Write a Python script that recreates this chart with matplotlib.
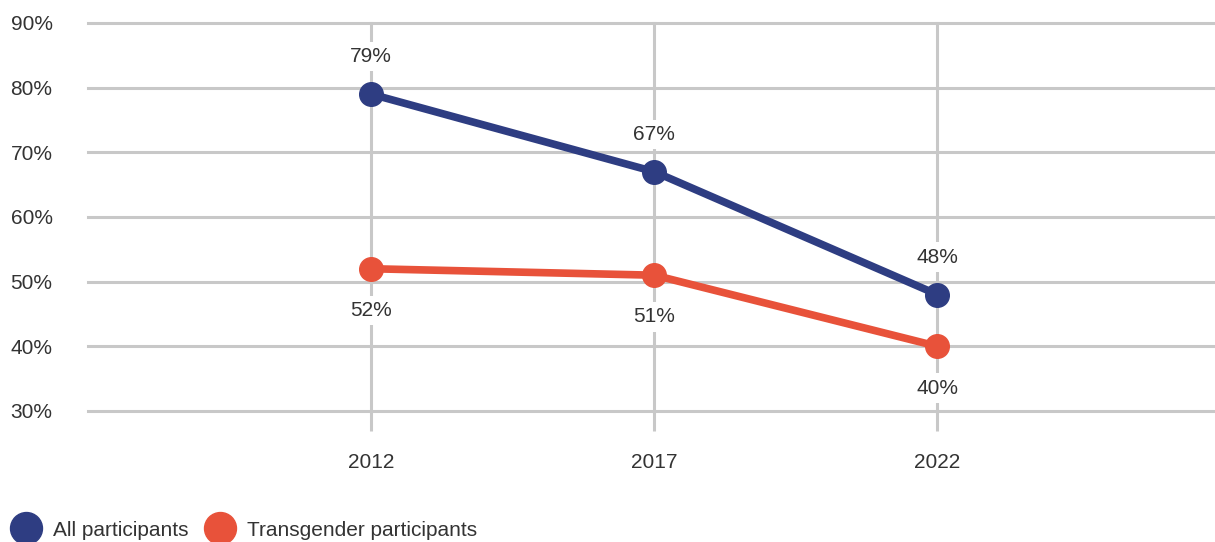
import matplotlib.pyplot as plt
from matplotlib import font_manager
from matplotlib.lines import Line2D

names = {f.name for f in font_manager.fontManager.ttflist}
fam = 'Liberation Sans Narrow' if 'Liberation Sans Narrow' in names else 'Liberation Sans'
plt.rcParams['font.family'] = [fam, 'DejaVu Sans']

years = ['2012', '2017', '2022']
all_part = [79, 67, 48]
trans_part = [52, 51, 40]

navy = '#2e3d82'
orange = '#e8523a'
grid_c = '#c8c8c8'
txt_c = '#333333'
fs = 15

fig = plt.figure(figsize=(12.15, 5.42), dpi=100)
ax = fig.add_axes([88/1215, 131/542, (1215-88)/1215, 388/542])
x = list(range(len(years)))

ax.plot(x, all_part, color=navy, lw=5.5, marker='o', ms=17, zorder=4, solid_capstyle='round')
ax.plot(x, trans_part, color=orange, lw=5.5, marker='o', ms=17, zorder=4, solid_capstyle='round')

# value labels, white box breaks the gridlines
for i in x:
    ax.annotate(f'{all_part[i]}%', (i, all_part[i]), xytext=(0, 27), textcoords='offset points',
                ha='center', va='center', fontsize=fs, color=txt_c, zorder=3,
                bbox=dict(boxstyle='square,pad=0.25', fc='white', ec='none'))
    ax.annotate(f'{trans_part[i]}%', (i, trans_part[i]), xytext=(0, -30), textcoords='offset points',
                ha='center', va='center', fontsize=fs, color=txt_c, zorder=3,
                bbox=dict(boxstyle='square,pad=0.25', fc='white', ec='none'))

ax.set_xlim(-1, 2.98)
ax.set_ylim(30, 90)
ax.set_xticks(x)
ax.set_xticklabels(years)
ax.set_yticks(range(30, 91, 10))
ax.set_yticklabels([f'{v}%' for v in range(30, 91, 10)])

ax.grid(True, color=grid_c, lw=2.2)
for gl in ax.get_xgridlines() + ax.get_ygridlines():
    gl.set_clip_on(False)
ax.set_axisbelow(True)
for s in ax.spines.values():
    s.set_visible(False)
ax.tick_params(axis='x', length=14.5, width=2.2, color=grid_c, pad=16, labelsize=fs, labelcolor=txt_c)
ax.tick_params(axis='y', length=0, pad=25.5, labelsize=fs, labelcolor=txt_c)

handles = [Line2D([], [], color=navy, marker='o', ls='none', ms=23),
           Line2D([], [], color=orange, marker='o', ls='none', ms=23)]
fig.legend(handles, ['All participants', 'Transgender participants'], loc='lower left',
           bbox_to_anchor=(-0.004, -0.03), ncol=2, frameon=False, fontsize=fs,
           handlelength=1.2, handletextpad=0.7, columnspacing=0.9, labelcolor=txt_c)

fig.savefig('out.png', dpi=100)
